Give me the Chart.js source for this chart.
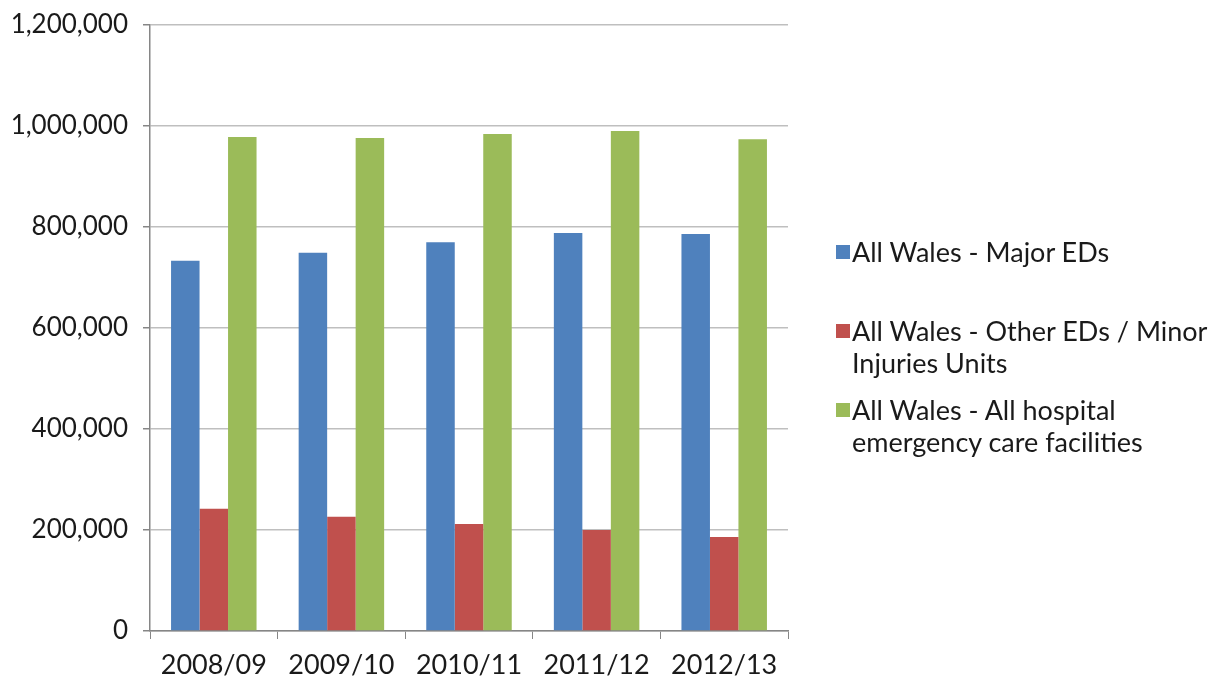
<!DOCTYPE html>
<html>
<head>
<meta charset="utf-8">
<script src="https://cdn.jsdelivr.net/npm/chart.js@4"></script>
<style>
  body { margin:0; background:#fff; }
  #wrap { position:relative; width:1215px; height:677px; }
  #legend { position:absolute; left:836px; top:0; font-family:"Lato", sans-serif; font-size:27px; color:#1a1a1a; }
  .item { position:absolute; left:0; width:379px; line-height:32px; padding-left:16px; white-space:nowrap; }
  .item span.box { position:absolute; left:0; top:9px; width:14px; height:14px; }
</style>
</head>
<body>
<div id="wrap">
  <canvas id="myChart" width="1215" height="677"></canvas>
  <div id="legend"></div>
</div>
<script>
let years = ['2008/09','2009/10','2010/11','2011/12','2012/13'];
let majorEDs = [733000, 749000, 770000, 788000, 786000];
let otherEDs = [242000, 226000, 212000, 200000, 186000];
let allFacilities = [978000, 976000, 984000, 990000, 974000];
let seriesNames = ['All Wales - Major EDs', 'All Wales - Other EDs / Minor\nInjuries Units', 'All Wales - All hospital\nemergency care facilities'];
let seriesColors = ['#4f81bd', '#c0504d', '#9bbb59'];

let ctx = document.getElementById('myChart').getContext('2d');
let chart = new Chart(ctx, {
	type:'bar',
	data:{
		labels:years,
		datasets:[
			{label:seriesNames[0], data:majorEDs, backgroundColor:seriesColors[0]},
			{label:seriesNames[1], data:otherEDs, backgroundColor:seriesColors[1]},
			{label:seriesNames[2], data:allFacilities, backgroundColor:seriesColors[2]}
		]
	},
	options:{
		responsive:false,
		animation:false,
		datasets:{ bar:{ categoryPercentage:0.67, barPercentage:1 } },
		layout:{ padding:{ left:0, right:427, top:25, bottom:0 } },
		scales:{
			x:{
				grid:{ display:true, drawOnChartArea:false, drawTicks:true, tickLength:8, color:'#868686', offset:true },
				border:{ color:'#868686', width:1.5 },
				ticks:{ color:'#1a1a1a', font:{ family:'Lato', size:27 }, padding:10 },
				afterFit:function(s){ s.height = 46; }
			},
			y:{
				min:0, max:1200000,
				ticks:{ stepSize:200000, color:'#1a1a1a', font:{ family:'Lato', size:26 }, padding:15,
					callback:function(v){ return v.toLocaleString('en-US'); } },
				grid:{ color:'#bfbfbf', lineWidth:1.5, tickLength:7, tickColor:'#868686' },
				border:{ color:'#868686', width:1.5 },
				afterFit:function(s){ s.width = 150; s.paddingTop = 0; s.paddingBottom = 0; }
			}
		},
		plugins:{
			legend:{ display:false },
			tooltip:{ enabled:false }
		}
	}
});

// html legend
let legendTops = [236, 315, 394];
let legend = document.getElementById('legend');
seriesNames.forEach(function(name, i){
	let d = document.createElement('div');
	d.className = 'item';
	d.style.top = legendTops[i] + 'px';
	d.innerHTML = '<span class="box" style="background:' + seriesColors[i] + '"></span>' + name.replace('\n', '<br>');
	legend.appendChild(d);
});
</script>
</body>
</html>
